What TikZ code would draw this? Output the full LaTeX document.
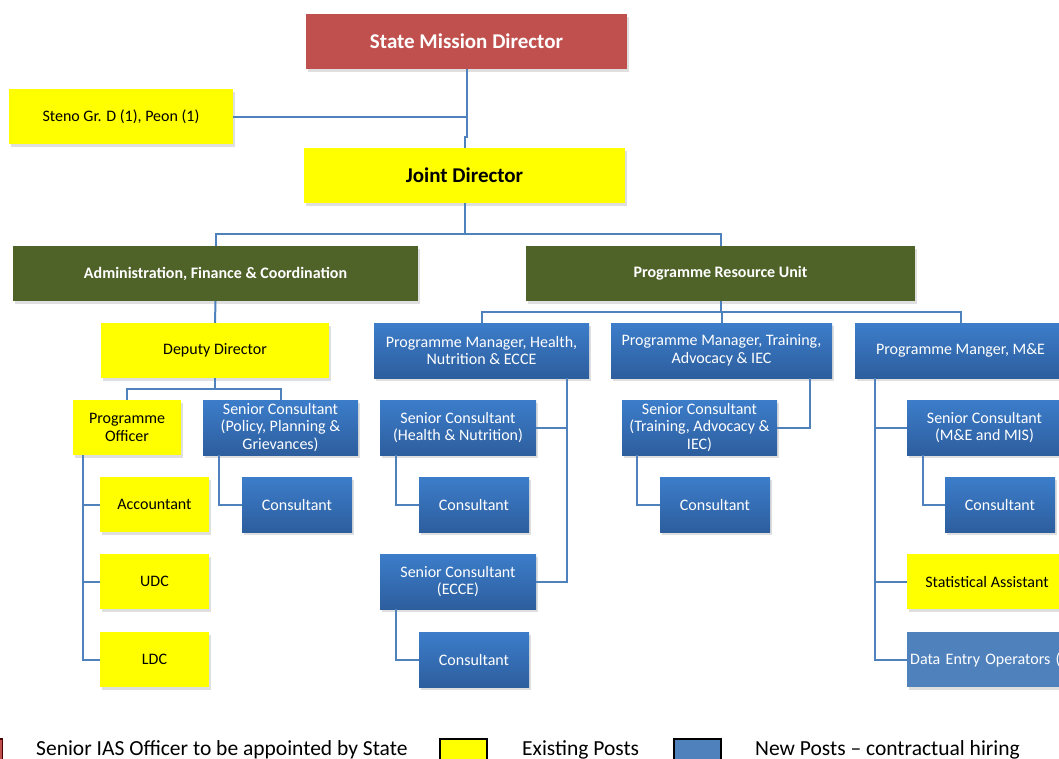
\documentclass[tikz,border=0pt]{standalone}
\usepackage{fontspec}
\setmainfont{Carlito}
\usetikzlibrary{shadows}
\definecolor{smdred}{RGB}{192,80,77}
\definecolor{afcgreen}{RGB}{79,98,40}
\definecolor{yelfill}{RGB}{255,255,0}
\definecolor{btop}{RGB}{60,125,202}
\definecolor{bbot}{RGB}{45,94,158}
\definecolor{lineblue}{RGB}{79,129,189}
\definecolor{deoblue}{RGB}{79,129,189}
\begin{document}
\begin{tikzpicture}[x=1pt,y=-1pt,
  orgbox/.style={minimum height=55pt, inner sep=0pt, align=center,
    font=\fontsize{16}{17.8}\selectfont,
    drop shadow={opacity=0.25, shadow xshift=1.5pt, shadow yshift=-3pt}},
  yelbox/.style={orgbox, fill=yelfill, text=black},
  bluebox/.style={orgbox, top color=btop, bottom color=bbot, text=white},
  headbox/.style={orgbox, fill=afcgreen, text=white, font=\bfseries\fontsize{16}{18}\selectfont},
  bigtext/.style={font=\bfseries\fontsize{21}{24}\selectfont},
  conn/.style={draw=lineblue, line width=2pt},
  legbox/.style={draw=black, line width=1.6pt, minimum width=47pt, minimum height=26pt, inner sep=0pt},
  legtext/.style={anchor=base west, inner sep=0pt, font=\fontsize{21.5}{24}\selectfont}
]
\useasboundingbox (0,0) rectangle (1059,758);
\clip (0,0) rectangle (1059,758);

% top
\node[orgbox, fill=smdred, text=white, minimum width=321pt, bigtext] (smd) at (466.5,41.5) {State Mission Director};
\node[yelbox, minimum width=224pt] (steno) at (121,116.5) {Steno Gr. D (1), Peon (1)};
\node[yelbox, minimum width=321pt, bigtext] (jd) at (464.5,175.5) {Joint Director};

% heads
\node[headbox, minimum width=405pt] (afc) at (215.5,273.5) {Administration, Finance \& Coordination};
\node[headbox, minimum width=389pt] (pru) at (720.5,273.5) {Programme Resource Unit};

% admin branch
\node[yelbox, minimum width=228pt] (dd) at (215,350.5) {Deputy Director};
\node[yelbox, minimum width=108pt] (po) at (127,427.5) {Programme\\Officer};
\node[bluebox, minimum width=155pt] (scp) at (280.5,427.5) {Senior Consultant\\(Policy, Planning \&\\Grievances)};
\node[yelbox, minimum width=109pt] (acc) at (154.5,504.5) {Accountant};
\node[yelbox, minimum width=109pt] (udc) at (154.5,581.5) {UDC};
\node[yelbox, minimum width=109pt] (ldc) at (154.5,659.5) {LDC};
\node[bluebox, minimum width=110pt] (c1) at (297,504.5) {Consultant};

% programme managers
\node[bluebox, minimum width=215pt] (pmh) at (481.5,350.5) {Programme Manager, Health,\\Nutrition \& ECCE};
\node[bluebox, minimum width=221pt] (pmt) at (721.5,350.5) {Programme Manager, Training,\\Advocacy \& IEC};
\node[bluebox, minimum width=211pt] (pmm) at (960.5,350.5) {Programme Manger, M\&E};

% health branch
\node[bluebox, minimum width=156pt] (schn) at (458,427.5) {Senior Consultant\\(Health \& Nutrition)};
\node[bluebox, minimum width=110pt] (c2) at (474,504.5) {Consultant};
\node[bluebox, minimum width=156pt] (sce) at (458,581.5) {Senior Consultant\\(ECCE)};
\node[bluebox, minimum width=110pt] (c3) at (474,659.5) {Consultant};

% training branch
\node[bluebox, minimum width=155pt] (sct) at (699.5,427.5) {Senior Consultant\\(Training, Advocacy \&\\IEC)};
\node[bluebox, minimum width=110pt] (c4) at (715,504.5) {Consultant};

% M&E branch
\node[bluebox, minimum width=155pt] (scm) at (984.5,427.5) {Senior Consultant\\(M\&E and MIS)};
\node[bluebox, minimum width=110pt] (c5) at (1000,504.5) {Consultant};
\node[yelbox, minimum width=160pt] (sa) at (987,581.5) {Statistical Assistant};
\node[orgbox, fill=deoblue, text=white, anchor=west, align=left, text width=190pt, inner xsep=3pt] (deo) at (907,659.5) {Data Entry Operators (2)};

% connectors
\draw[conn] (smd.south) -- (smd.south |- 0,137) -| (jd.north);
\draw[conn] (steno.east) -- (steno.east -| smd.south);
\draw[conn] (jd.south) -- (jd.south |- 0,234);
\draw[conn] (afc.north) -- ++(0,-12) -| (pru.north);
\draw[conn] (afc.south) -- (dd.north);
\draw[conn] (dd.south) -- ++(0,11);
\draw[conn] (po.north) -- ++(0,-11) -| (scp.north);
\draw[conn] ([xshift=10pt]po.south west) |- (acc.west);
\draw[conn] ([xshift=10pt]po.south west) |- (udc.west);
\draw[conn] ([xshift=10pt]po.south west) |- (ldc.west);
\draw[conn] ([xshift=16pt]scp.south west) |- (c1.west);

\draw[conn] (pru.south) -- ++(0,11);
\draw[conn] (pmh.north) -- ++(0,-11) -| (pmm.north);
\draw[conn] (pmt.north) -- ++(0,-11);
\draw[conn] ([xshift=-22pt]pmh.south east) |- (schn.east);
\draw[conn] ([xshift=-22pt]pmh.south east) |- (sce.east);
\draw[conn] ([xshift=16pt]schn.south west) |- (c2.west);
\draw[conn] ([xshift=16pt]sce.south west) |- (c3.west);
\draw[conn] ([xshift=-22pt]pmt.south east) |- (sct.east);
\draw[conn] ([xshift=15pt]sct.south west) |- (c4.west);
\draw[conn] ([xshift=20pt]pmm.south west) |- (scm.west);
\draw[conn] ([xshift=20pt]pmm.south west) |- (sa.west);
\draw[conn] ([xshift=20pt]pmm.south west) |- (deo.west);
\draw[conn] ([xshift=16pt]scm.south west) |- (c5.west);

% legend
\node[legbox, fill=smdred, draw=black!70!red] (lr) at (-21,752) {};
\node[legtext] (lrt) at (36,755) {Senior IAS Officer to be appointed by State};
\node[legbox, fill=yelfill] (ly) at (463.5,752) {};
\node[legtext] (lyt) at (522,755) {Existing Posts};
\node[legbox, fill=deoblue] (lb) at (697.5,752) {};
\node[legtext] (lbt) at (755,755) {New Posts -- contractual hiring};
\end{tikzpicture}
\end{document}
